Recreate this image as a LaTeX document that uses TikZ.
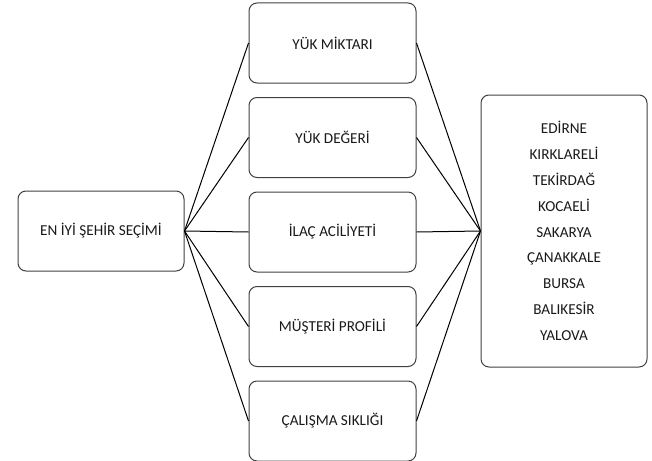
\documentclass[tikz,border=0pt]{standalone}
\usepackage{fontspec}
\setmainfont{Carlito}
\usepackage{tikz}
\usetikzlibrary{positioning}

\begin{document}
\begin{tikzpicture}[x=1pt,y=-1pt]
\tikzstyle{every node}=[font=\fontsize{15.2}{25.8}\selectfont,text=black!90]
\tikzstyle{kutu}=[draw=black!75,line width=1pt,rounded corners=8pt,
minimum width=167pt,minimum height=80pt,align=center]
\tikzstyle{bag}=[black,line width=1pt]
\useasboundingbox (0,0) rectangle (652,460);
% sol kutu
\node[kutu,minimum width=166pt] (secim) at (101,231) {EN İYİ ŞEHİR SEÇİMİ};
% kriterler
\node[kutu] (miktar) at (332.5,43) {YÜK MİKTARI};
\node[kutu,below=13.5pt of miktar] (deger) {YÜK DEĞERİ};
\node[kutu,below=13.5pt of deger] (aciliyet) {İLAÇ ACİLİYETİ};
\node[kutu,below=13.5pt of aciliyet] (profil) {MÜŞTERİ PROFİLİ};
\node[kutu,below=13.5pt of profil] (siklik) {ÇALIŞMA SIKLIĞI};
% iller
\node[kutu,minimum width=166pt,minimum height=272pt] (iller) at (564,231)
{EDİRNE\\KIRKLARELİ\\TEKİRDAĞ\\KOCAELİ\\SAKARYA\\ÇANAKKALE\\BURSA\\BALIKESİR\\YALOVA};
\foreach \k in {miktar,deger,aciliyet,profil,siklik}
\draw[bag] (secim.east) -- (\k.west) (\k.east) -- (iller.west);
\end{tikzpicture}
\end{document}
